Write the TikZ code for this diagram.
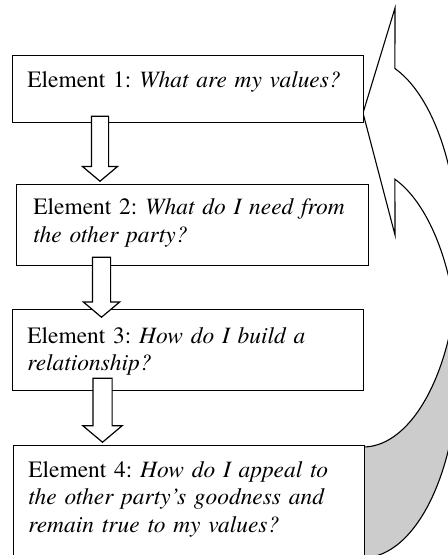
\documentclass[tikz,border=0pt]{standalone}
\usepackage{fontspec}
\setmainfont{texgyretermes}[Extension=.otf, UprightFont=*-regular, ItalicFont=*-italic, BoldFont=*-bold, BoldItalicFont=*-bolditalic]
\usetikzlibrary{shapes.arrows}
\tikzset{
x=0.5pt, y=-0.5pt, % one unit is one pixel of the page, y runs down
elem/.style={draw, line width=0.7pt, fill=white, anchor=north west, inner sep=0pt}, % the question boxes
qtext/.style={anchor=base west, align=left, text width=170pt, inner sep=0pt, font=\fontsize{11.7}{13.8}\selectfont\frenchspacing},
downarrow/.style={single arrow, draw, line width=0.6pt, fill=white, rotate=-90, anchor=tip,
  inner xsep=0pt, inner ysep=4pt, single arrow tip angle=100, single arrow head extend=4.5pt},
band/.style={draw, line width=0.55pt, fill=white},
}
\begin{document}
\begin{tikzpicture}
    \useasboundingbox (0,0) rectangle (448,555);
    \clip (0,0) rectangle (448,555);

    % curved arrow back to the first element
    \draw[band] (395,8) -- (363,113) -- (395,235) -- (394.9,179.2)
        arc[start angle=-70.5, end angle=-16.5, x radius=95.5, y radius=195]
        arc[start angle=16.5, end angle=-70.5, x radius=95.5, y radius=195] -- cycle;
    \draw[band, fill=gray!40] (363,447)
        arc[start angle=90, end angle=16.5, x radius=95.5, y radius=195]
        arc[start angle=-16.5, end angle=90, x radius=95.5, y radius=195] -- cycle;

    \node[elem, minimum width=175.5pt, minimum height=33.5pt] (e1) at (12,55) {};
    \node[elem, minimum width=176pt, minimum height=40.5pt] (e2) at (16,184) {};
    \node[elem, minimum width=175.5pt, minimum height=40.5pt] (e3) at (12,309) {};
    \node[elem, minimum width=175.5pt, minimum height=60pt] (e4) at (13,445) {};

    \node[qtext] (q1) at ([xshift=7.5pt, yshift=-16.5pt]e1.north west) {Element 1: \textit{What are my values?}};
    \node[qtext] (q2) at ([xshift=8.5pt, yshift=-15.5pt]e2.north west) {Element 2: \textit{What do I need from}\\\textit{the other party?}};
    \node[qtext] (q3) at ([xshift=7.5pt, yshift=-17pt]e3.north west) {Element 3: \textit{How do I build a}\\\textit{relationship?}};
    \node[qtext] (q4) at ([xshift=7.5pt, yshift=-16pt]e4.north west) {Element 4: \textit{How do I appeal to}\\\textit{the other party’s goodness and}\\\textit{remain true to my values?}};

    \node[downarrow, minimum height=32.5pt] (a1) at (100,182) {};
    \node[downarrow, minimum height=30pt, inner ysep=4.25pt] (a2) at (101.5,318) {};
    \node[downarrow, minimum height=32pt, inner ysep=4.5pt, single arrow head extend=5pt] (a3) at (102.5,443) {};
\end{tikzpicture}
\end{document}
